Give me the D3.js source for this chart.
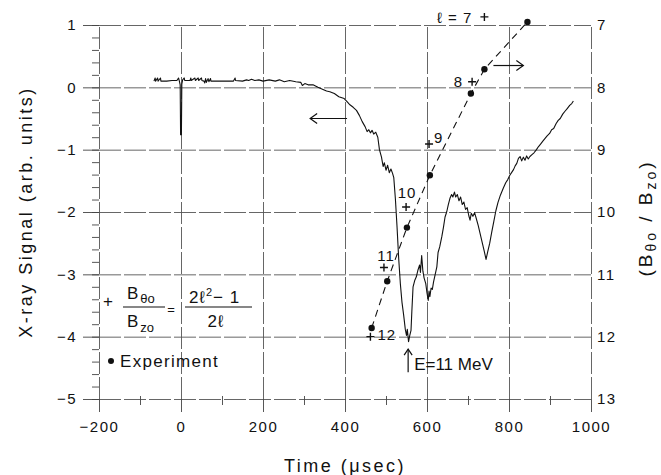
<!DOCTYPE html>
<html lang="en">
<head>
  <meta charset="UTF-8">
  <title>X-ray Signal vs Time</title>
  <script src="https://cdn.jsdelivr.net/npm/d3@7/dist/d3.min.js"></script>
  <style>
    body { margin: 0; background: #fff; }
    svg { display: block; font-family: "Liberation Sans", Arial, sans-serif; }
    .grid line { stroke: #555; stroke-width: 0.9; stroke-dasharray: 22,3; }
    .grid path, .axis path { display: none; }
    .axis line { stroke: #444; stroke-width: 0.9; }
    .axis text { font-size: 15px; fill: #111; letter-spacing: 1.5px; }
  </style>
</head>
<body>
<div id="chart"></div>
<script>
  // tick values
  const timeTicks = [-200, 0, 200, 400, 600, 800, 1000];
  const timeMinor = [-100, 100, 300, 500, 700, 900];
  const signalTicks = [1, 0, -1, -2, -3, -4, -5];
  const ratioTicks = [7, 8, 9, 10, 11, 12, 13];

  // x-ray trace, [time (usec), signal]
  const xraySignal = [
    [-66,0.10],[-63,0.15],[-62,0.10],[-57,0.15],[-56,0.10],[-50,0.15],[-49,0.10],[-35,0.10],[-22,0.11],
    [-10,0.11],[-6,0.15],[-4,0.10],[-2,0.04],[-1,-0.76],[1,-0.76],[2,0.05],[4,0.12],[8,0.15],[9,0.11],
    [22,0.11],[24,0.15],[25,0.11],[34,0.15],[35,0.11],[42,0.15],[43,0.11],[50,0.15],[51,0.11],[56,0.10],
    [58,0.07],[60,0.14],[62,0.08],[66,0.14],[68,0.09],[72,0.14],[73,0.10],[95,0.10],[110,0.10],[128,0.10],
    [132,0.15],[133,0.11],[150,0.10],[160,0.12],[165,0.11],[172,0.13],[180,0.11],[190,0.12],[200,0.10],
    [215,0.12],[230,0.10],[240,0.12],[252,0.09],[265,0.11],[280,0.09],[292,0.08],[296,0.03],[302,0.06],
    [310,0.04],[322,0.04],[334,0.0],[345,-0.03],[355,-0.06],[363,-0.07],[374,-0.10],[385,-0.15],[398,-0.18],
    [405,-0.23],[412,-0.28],[420,-0.32],[428,-0.37],[435,-0.45],[442,-0.55],[449,-0.63],[454,-0.71],
    [458,-0.68],[462,-0.73],[466,-0.69],[470,-0.75],[475,-0.72],[480,-0.80],[484,-1.0],[489,-1.12],
    [493,-1.27],[496,-1.21],[500,-1.33],[504,-1.25],[508,-1.37],[512,-1.31],[516,-1.38],[519,-1.45],
    [523,-1.8],[527,-2.25],[531,-2.75],[535,-3.15],[539,-3.45],[543,-3.65],[547,-3.88],[550,-3.98],
    [552,-3.88],[555,-4.08],[558,-3.98],[561,-3.9],[563,-3.6],[566,-3.2],[570,-3.1],[574,-3.04],
    [578,-2.93],[582,-2.85],[584,-2.97],[587,-2.70],[590,-2.95],[593,-3.06],[597,-3.15],[600,-3.3],
    [603,-3.42],[605,-3.27],[607,-3.36],[610,-3.22],[613,-3.24],[616,-3.12],[620,-3.0],[624,-2.88],
    [627,-2.65],[631,-2.56],[636,-2.40],[640,-2.25],[644,-2.08],[648,-2.0],[652,-1.88],[656,-1.78],
    [660,-1.72],[663,-1.76],[667,-1.68],[670,-1.76],[674,-1.72],[678,-1.82],[682,-1.76],[686,-1.88],
    [690,-1.84],[694,-1.96],[698,-1.93],[702,-2.06],[705,-2.13],[708,-2.02],[712,-2.07],[716,-2.01],
    [720,-2.1],[725,-2.22],[730,-2.36],[735,-2.5],[740,-2.64],[744,-2.76],[748,-2.64],[753,-2.5],
    [758,-2.32],[763,-2.15],[768,-1.98],[773,-1.85],[779,-1.73],[786,-1.62],[792,-1.53],[797,-1.48],
    [802,-1.41],[807,-1.36],[811,-1.32],[815,-1.26],[819,-1.22],[823,-1.14],[827,-1.11],[831,-1.18],
    [835,-1.12],[839,-1.17],[843,-1.10],[847,-1.15],[851,-1.11],[856,-1.08],[861,-1.05],[867,-1.0],
    [872,-0.95],[877,-0.91],[883,-0.86],[888,-0.82],[893,-0.78],[899,-0.74],[904,-0.68],[909,-0.66],
    [915,-0.58],[920,-0.53],[925,-0.50],[931,-0.43],[937,-0.38],[942,-0.34],[948,-0.29],[953,-0.26],[957,-0.22]
  ];

  // experiment points on the right (B_theta0 / B_z0) axis
  const expTime = [465, 503, 551, 607, 707, 740, 845];
  const expRatio = [11.86, 11.11, 10.25, 9.41, 8.10, 7.71, 6.95];

  // theory crosses, labelled by l
  const theoryL = ["ℓ = 7", "8", "9", "10", "11", "12"];
  const theoryTime = [740, 710, 605, 549, 495, 462];
  const theoryRatio = [6.87, 7.91, 8.91, 9.92, 10.89, 12.0];

  const width = 661, height = 475;
  const margin = { top: 25, right: 70, bottom: 76, left: 99 };
  const x0 = margin.left, x1 = width - margin.right;
  const y0 = margin.top, y1 = height - margin.bottom;

  const x = d3.scaleLinear().domain([-200, 1000]).range([x0, x1]);
  const y = d3.scaleLinear().domain([-5, 1]).range([y1, y0]);
  const yR = d3.scaleLinear().domain([13, 7]).range([y1, y0]);

  const svg = d3.select("#chart").append("svg")
      .attr("width", width)
      .attr("height", height);

  const minus = d => (d < 0 ? "\u2212" + Math.abs(d) : String(d));

  // gridlines
  svg.append("g").attr("class", "grid")
      .attr("transform", `translate(0,${y1})`)
      .call(d3.axisBottom(x).tickValues(timeTicks).tickSize(-(y1 - y0)).tickFormat(""));
  svg.append("g").attr("class", "grid")
      .attr("transform", `translate(${x0},0)`)
      .call(d3.axisLeft(y).tickValues(signalTicks).tickSize(-(x1 - x0)).tickFormat(""));

  // left axis
  svg.append("g").attr("class", "axis")
      .attr("transform", `translate(${x0},0)`)
      .call(d3.axisLeft(y).tickValues(signalTicks).tickSize(16).tickPadding(6).tickFormat(minus));
  svg.append("g").attr("class", "axis")
      .attr("transform", `translate(${x0},0)`)
      .call(d3.axisLeft(y).tickValues(d3.range(-5, 1.01, 0.2)).tickSize(7).tickFormat(""));

  // bottom axis
  svg.append("g").attr("class", "axis")
      .attr("transform", `translate(0,${y1})`)
      .call(d3.axisBottom(x).tickValues(timeTicks).tickSize(13).tickPadding(9).tickFormat(minus));
  svg.append("g").attr("class", "axis")
      .attr("transform", `translate(0,${y1 - 3})`)
      .call(d3.axisBottom(x).tickValues(timeMinor).tickSize(9).tickFormat(""));

  // right axis
  svg.append("g").attr("class", "axis")
      .attr("transform", `translate(${x1},0)`)
      .call(d3.axisRight(yR).tickValues(ratioTicks).tickSize(0).tickPadding(6).tickFormat(d3.format("d")));

  // x-ray trace
  svg.append("path")
      .datum(xraySignal)
      .attr("fill", "none")
      .attr("stroke", "#111")
      .attr("stroke-width", 1.1)
      .attr("stroke-linejoin", "round")
      .attr("d", d3.line().x(d => x(d[0])).y(d => y(d[1])));

  // dashed line through experiment points
  svg.append("path")
      .datum(expTime.map((t, i) => [t, expRatio[i]]))
      .attr("fill", "none")
      .attr("stroke", "#111")
      .attr("stroke-width", 1.1)
      .attr("stroke-dasharray", "7,5")
      .attr("d", d3.line().x(d => x(d[0])).y(d => yR(d[1])));

  svg.selectAll(".exp").data(expTime).join("circle")
      .attr("cx", d => x(d))
      .attr("cy", (d, i) => yR(expRatio[i]))
      .attr("r", 3.2)
      .attr("fill", "#111");

  // theory crosses and their labels
  const labelPos = [
    { dx: -12, dy: 6, anchor: "end" },
    { dx: -9, dy: 5, anchor: "end" },
    { dx: 5, dy: -1, anchor: "start" },
    { dx: 1, dy: -9, anchor: "middle" },
    { dx: 2, dy: -6, anchor: "middle" },
    { dx: 7, dy: 3, anchor: "start" }
  ];
  const cross = svg.selectAll(".cross").data(theoryTime).join("g")
      .attr("transform", (d, i) => `translate(${x(d)},${yR(theoryRatio[i])})`);
  cross.append("path")
      .attr("d", "M-4,0H4M0,-4V4")
      .attr("stroke", "#111")
      .attr("stroke-width", 1.4);
  cross.append("text")
      .attr("x", (d, i) => labelPos[i].dx)
      .attr("y", (d, i) => labelPos[i].dy)
      .attr("text-anchor", (d, i) => labelPos[i].anchor)
      .style("font-size", "15px")
      .style("letter-spacing", "1px")
      .attr("fill", "#111")
      .text((d, i) => theoryL[i]);

  // arrows showing which axis each curve uses
  function arrow(xa, xb, yy, headLeft) {
    svg.append("line").attr("x1", xa).attr("x2", xb).attr("y1", yy).attr("y2", yy)
        .attr("stroke", "#111").attr("stroke-width", 1.2);
    const hx = headLeft ? xa : xb, s = headLeft ? 1 : -1;
    svg.append("path")
        .attr("d", `M${hx + 7 * s},${yy - 5}L${hx},${yy}L${hx + 7 * s},${yy + 5}`)
        .attr("fill", "none").attr("stroke", "#111").attr("stroke-width", 1.2);
  }
  arrow(x(315), x(405), y(-0.5), true);
  arrow(x(762), x(835), yR(7.65), false);

  // E = 11 MeV marker
  svg.append("line")
      .attr("x1", x(554)).attr("x2", x(554))
      .attr("y1", y(-4.2)).attr("y2", y(-4.57))
      .attr("stroke", "#111").attr("stroke-width", 1.2);
  svg.append("path")
      .attr("d", `M${x(554) - 4},${y(-4.2) + 6}L${x(554)},${y(-4.2)}L${x(554) + 4},${y(-4.2) + 6}`)
      .attr("fill", "none").attr("stroke", "#111").attr("stroke-width", 1.2);
  svg.append("text")
      .attr("x", x(554) + 6).attr("y", y(-4.53))
      .style("font-size", "17px")
      .attr("fill", "#111")
      .text("E=11 MeV");

  // legend: formula
  const lg = svg.append("g").attr("fill", "#111");
  lg.append("text").attr("x", 108).attr("y", 307).attr("text-anchor", "middle")
      .style("font-size", "17px").text("+");
  const num = lg.append("text").attr("x", 127).attr("y", 299).style("font-size", "17px");
  num.append("tspan").text("B");
  num.append("tspan").attr("dx", 2).attr("dy", 4).style("font-size", "13px").text("θo");
  const den = lg.append("text").attr("x", 127).attr("y", 327).style("font-size", "17px");
  den.append("tspan").text("B");
  den.append("tspan").attr("dx", 2).attr("dy", 5).style("font-size", "13px").text("zo");
  lg.append("line").attr("x1", 123).attr("x2", 165).attr("y1", 307).attr("y2", 307)
      .attr("stroke", "#111").attr("stroke-width", 1.2);
  lg.append("text").attr("x", 171).attr("y", 314).attr("text-anchor", "middle")
      .style("font-size", "13px").text("=");
  const rn = lg.append("text").attr("x", 189).attr("y", 303)
      .style("font-size", "17px").style("letter-spacing", "1px");
  rn.append("tspan").text("2ℓ");
  rn.append("tspan").attr("dy", -7).style("font-size", "11px").text("2");
  rn.append("tspan").attr("dy", 7).text("\u2212 1");
  lg.append("line").attr("x1", 185).attr("x2", 252).attr("y1", 307).attr("y2", 307)
      .attr("stroke", "#111").attr("stroke-width", 1.2);
  lg.append("text").attr("x", 216).attr("y", 327).attr("text-anchor", "middle")
      .style("font-size", "17px").style("letter-spacing", "1px").text("2ℓ");

  // legend: experiment
  lg.append("circle").attr("cx", 111).attr("cy", 361).attr("r", 3);
  lg.append("text").attr("x", 120).attr("y", 367)
      .style("font-size", "17px").style("letter-spacing", "1.3px").text("Experiment");

  // axis titles
  svg.append("text")
      .attr("x", (x0 + x1) / 2).attr("y", 472)
      .attr("text-anchor", "middle")
      .style("font-size", "18px").style("letter-spacing", "2.5px")
      .attr("fill", "#111")
      .text("Time (μsec)");

  svg.append("text")
      .attr("transform", `translate(32,${(y0 + y1) / 2}) rotate(-90)`)
      .attr("text-anchor", "middle")
      .style("font-size", "18px").style("letter-spacing", "2.5px")
      .attr("fill", "#111")
      .text("X-ray  Signal (arb. units)");

  const rt = svg.append("text")
      .attr("transform", `translate(652,218) rotate(-90)`)
      .attr("text-anchor", "middle")
      .style("font-size", "19px").style("letter-spacing", "3px")
      .attr("fill", "#111");
  rt.append("tspan").text("(B");
  rt.append("tspan").attr("dy", 4).style("font-size", "14px").text("θo");
  rt.append("tspan").attr("dy", -4).text(" / B");
  rt.append("tspan").attr("dy", 4).style("font-size", "14px").text("zo");
  rt.append("tspan").attr("dy", -4).text(")");
</script>
</body>
</html>
